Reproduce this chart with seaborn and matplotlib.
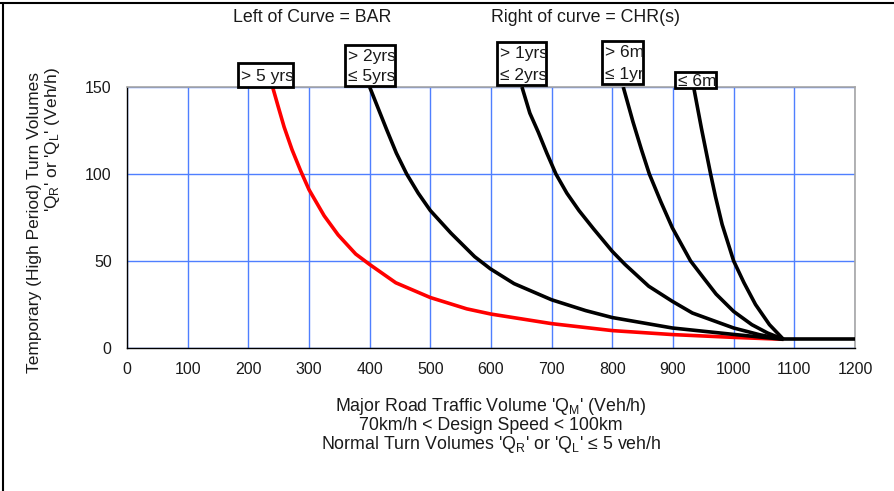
import matplotlib
matplotlib.use("Agg")
import matplotlib.pyplot as plt
import seaborn as sns
import pandas as pd
from matplotlib.patches import Rectangle
from matplotlib.lines import Line2D
from matplotlib.transforms import Bbox, TransformedBbox

# ---------------- data ----------------
series_names = ["> 5 yrs", "> 2yrs ≤ 5yrs", "> 1yrs ≤ 2yrs", "> 6m ≤ 1yr", "≤ 6m", "base"]

x_5yrs = [240, 249, 259, 272, 286, 300, 325, 348, 377, 400, 443, 500, 560, 600, 700, 800, 900, 1000, 1082]
y_5yrs = [150, 139, 127, 114, 102, 91, 76, 65, 54, 48, 37.5, 29, 22.5, 19.5, 14, 10, 7.7, 6.1, 5]

x_2to5 = [400, 416, 428, 444, 461, 480, 500, 534, 573, 599, 638, 700, 756, 800, 899, 1000, 1082]
y_2to5 = [150, 136, 125.5, 112, 100, 89, 79, 66, 52.5, 45.5, 37, 27.7, 21.5, 17.5, 11.5, 7.8, 5]

x_1to2 = [651, 664, 678, 692, 707, 725, 745, 769, 800, 821, 860, 899, 932, 1000, 1043, 1082]
y_1to2 = [150, 135, 124, 112, 100, 89, 79, 68.5, 55.5, 48, 35.5, 26.8, 20.1, 11.5, 7.6, 5]

x_6mto1 = [818, 834, 848, 861, 880, 899, 929, 951, 971, 1000, 1030, 1056, 1082]
y_6mto1 = [150, 130, 114, 100, 84, 69, 50, 40, 31, 21, 13.4, 8.6, 5]

x_6m = [934, 947, 962, 970, 981, 1000, 1017, 1036, 1059, 1082]
y_6m = [150, 126, 100, 87, 71, 50, 37.5, 25, 13.4, 5]

x_base = [1082, 1200]
y_base = [5, 5]

x_ticks = [0, 100, 200, 300, 400, 500, 600, 700, 800, 900, 1000, 1100, 1200]
y_ticks = [0, 50, 100, 150]

xs = [x_5yrs, x_2to5, x_1to2, x_6mto1, x_6m, x_base]
ys = [y_5yrs, y_2to5, y_1to2, y_6mto1, y_6m, y_base]
frames = [pd.DataFrame({"x": a, "y": b, "series": n}) for a, b, n in zip(xs, ys, series_names)]
df = pd.concat(frames, ignore_index=True)

palette = {n: "black" for n in series_names}
palette["> 5 yrs"] = "#ff0000"

# ---------------- style ----------------
sns.set_style("white")
plt.rcParams["font.family"] = ["Liberation Sans", "DejaVu Sans"]
plt.rcParams["mathtext.fontset"] = "custom"
plt.rcParams["mathtext.rm"] = "Liberation Sans"
plt.rcParams["mathtext.it"] = "Liberation Sans:italic"
plt.rcParams["mathtext.bf"] = "Liberation Sans:bold"

TXT = "#1a1a1a"
LFS = 12.8

W, H = 895, 491
fig = plt.figure(figsize=(W / 100, H / 100), dpi=100)
fig.patch.set_facecolor("white")
ax = fig.add_axes([127 / W, 1 - 348 / H, (855 - 127) / W, (348 - 87) / H])

sns.lineplot(data=df, x="x", y="y", hue="series", palette=palette, estimator=None,
             sort=False, units="series", linewidth=2.6, legend=False, ax=ax, zorder=3)
for ln in ax.lines:
    ln.set_solid_joinstyle("round")
    ln.set_solid_capstyle("butt")

ax.set_xlim(0, 1200)
ax.set_ylim(0, 150)
ax.set_xticks(x_ticks)
ax.set_yticks(y_ticks)
ax.set_xticklabels([str(v) for v in x_ticks])
ax.set_yticklabels([str(v) for v in y_ticks])
ax.grid(True, color="#4f7fff", linewidth=1.0)
ax.set_axisbelow(True)
ax.tick_params(axis="both", direction="out", length=5, width=1, colors="black",
               labelsize=11.5, labelcolor=TXT)
ax.tick_params(axis="y", pad=6)
ax.tick_params(axis="x", pad=5)
for s in ["left", "bottom"]:
    ax.spines[s].set_color("black")
    ax.spines[s].set_linewidth(1)
for s in ["top", "right"]:
    ax.spines[s].set_color("#a6a6a6")
    ax.spines[s].set_linewidth(1.2)

ax.set_xlabel("")
ax.set_ylabel("")

# y-axis title (two rotated lines, placed as in the reference)
fig.text(35 / W, 1 - 222 / H, "Temporary (High Period) Turn Volumes", rotation=90,
         ha="center", va="center", fontsize=12.5, color=TXT)
fig.text(53 / W, 1 - 140 / H, "'Q$_\\mathrm{R}$' or 'Q$_\\mathrm{L}$' (Veh/h)", rotation=90,
         ha="center", va="center", fontsize=12.5, color=TXT)

fig.text(491 / W, 1 - 396 / H,
         "Major Road Traffic Volume 'Q$_\\mathrm{M}$' (Veh/h)\n70km/h < Design Speed < 100km\n"
         "Normal Turn Volumes 'Q$_\\mathrm{R}$' or 'Q$_\\mathrm{L}$' ≤ 5 veh/h",
         ha="center", va="top", fontsize=LFS, color=TXT, linespacing=1.0)

fig.text(312 / W, 1 - 18 / H, "Left of Curve = BAR", ha="center", va="center",
         fontsize=LFS, color=TXT)
fig.text(586 / W, 1 - 18 / H, "Right of curve = CHR(s)", ha="center", va="center",
         fontsize=LFS, color=TXT)

# label boxes (pixel boxes: x0, y0(top), x1, y1(bottom)), text clipped to box
boxes = [
    (238, 63, 293, 87, ["> 5 yrs"]),
    (345, 45, 395, 86, ["> 2yrs", "≤ 5yrs"]),
    (497, 42, 546, 85, ["> 1yrs", "≤ 2yrs"]),
    (602, 41, 643, 84, ["> 6m", "≤ 1yr"]),
    (675, 72, 716, 88, ["≤ 6m"]),
]
for x0, y0, x1, y1, lines in boxes:
    fx0, fx1 = x0 / W, x1 / W
    fy0, fy1 = 1 - y1 / H, 1 - y0 / H
    rect = Rectangle((fx0, fy0), fx1 - fx0, fy1 - fy0, transform=fig.transFigure,
                     facecolor="white", edgecolor="black", linewidth=2, zorder=5)
    fig.add_artist(rect)
    n = len(lines)
    hgt = y1 - y0
    for i, ln in enumerate(lines):
        cy = y0 + hgt * (i + 0.5) / n + (2 if n == 1 else 1)
        t = fig.text(fx0 + 3 / W, 1 - cy / H, ln, ha="left", va="center",
                     fontsize=12.5, color=TXT, zorder=6)
        t.set_clip_on(True)
        t.set_clip_box(TransformedBbox(Bbox([[fx0, fy0], [fx1, fy1]]), fig.transFigure))

# screenshot frame lines (top and left)
fig.add_artist(Line2D([0, 1], [1 - 3 / H, 1 - 3 / H], transform=fig.transFigure,
                      color="black", linewidth=1.5))
fig.add_artist(Line2D([3 / W, 3 / W], [0, 1 - 3 / H], transform=fig.transFigure,
                      color="black", linewidth=1.5))

fig.savefig("out.png", dpi=100)
